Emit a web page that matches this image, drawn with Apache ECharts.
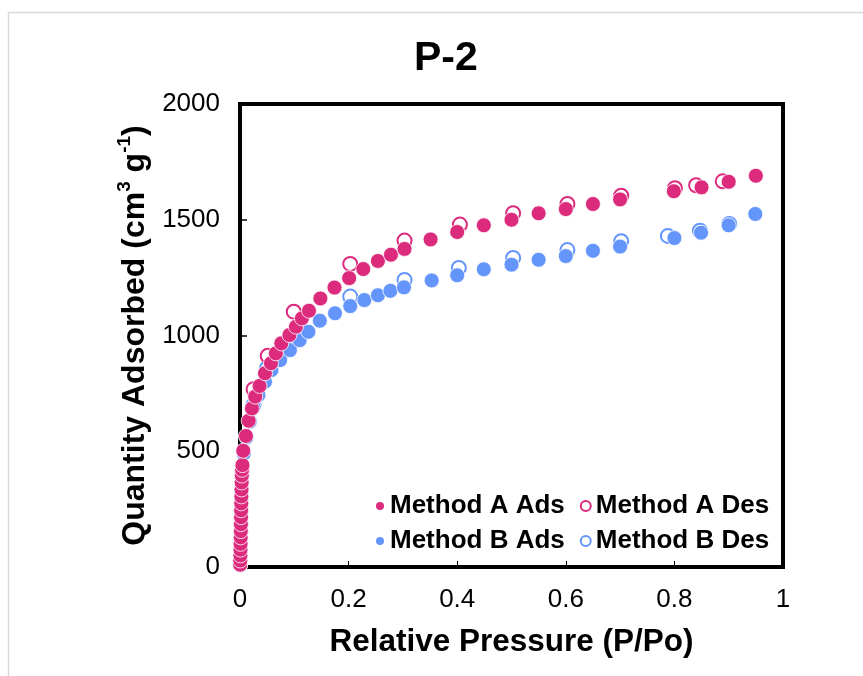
<!DOCTYPE html>
<html>
<head>
<meta charset="utf-8">
<script src="https://cdn.jsdelivr.net/npm/echarts@6/dist/echarts.min.js"></script>
<style>html,body{margin:0;padding:0;background:#fff;}#c{width:863px;height:676px;}</style>
</head>
<body>
<div id="c"></div>
<script>
// Data: [relative pressure, quantity adsorbed]
var methodAAds = [
  [0.0003,10],[0.0005,28],[0.0007,50],[0.0009,75],[0.0011,100],[0.0013,128],[0.0015,155],
  [0.0017,185],[0.0019,215],[0.0021,245],[0.0023,275],[0.0025,305],[0.0028,335],[0.0031,365],
  [0.0034,395],[0.0038,420],[0.0045,440],[0.006,502],[0.011,566],[0.016,632],[0.022,685],
  [0.028,736],[0.036,782],[0.046,837],[0.057,880],[0.066,923],[0.076,966],[0.091,1002],
  [0.103,1038],[0.114,1074],[0.127,1107],[0.148,1160],[0.174,1207],[0.201,1248],[0.227,1287],
  [0.254,1322],[0.278,1349],[0.303,1374],[0.351,1415],[0.400,1447],[0.449,1476],[0.500,1500],
  [0.550,1528],[0.600,1546],[0.650,1568],[0.700,1588],[0.799,1623],[0.850,1640],[0.900,1664],
  [0.950,1690]
];
var methodADes = [
  [0.889,1666],[0.840,1649],[0.801,1636],[0.702,1604],[0.603,1568],[0.503,1528],[0.405,1479],
  [0.303,1410],[0.203,1309],[0.099,1103],[0.051,912],[0.025,768]
];
var methodBAds = [
  [0.0003,8],[0.0005,25],[0.0007,45],[0.0009,70],[0.0011,95],[0.0013,120],[0.0015,150],
  [0.0017,178],[0.0019,205],[0.0021,235],[0.0023,265],[0.0025,295],[0.0028,325],[0.0031,355],
  [0.0034,385],[0.0038,410],[0.0045,432],[0.007,490],[0.012,560],[0.018,628],[0.025,692],
  [0.034,743],[0.046,800],[0.058,851],[0.074,894],[0.092,937],[0.110,980],[0.126,1016],
  [0.147,1064],[0.175,1096],[0.203,1127],[0.229,1153],[0.254,1174],[0.277,1193],[0.302,1208],
  [0.353,1238],[0.400,1260],[0.449,1286],[0.500,1306],[0.550,1327],[0.600,1343],[0.650,1366],
  [0.700,1384],[0.800,1421],[0.849,1444],[0.900,1476],[0.949,1525]
];
var methodBDes = [
  [0.901,1482],[0.847,1453],[0.788,1430],[0.702,1407],[0.603,1369],[0.503,1335],[0.403,1292],
  [0.303,1240],[0.203,1168],[0.100,1000],[0.050,860],[0.025,700]
];
var seriesNames = ['Method A Ads','Method A Des','Method B Ads','Method B Des'];
var xTicks = [0, 0.2, 0.4, 0.6, 0.8, 1];
var yTicks = [0, 500, 1000, 1500, 2000];

var PINK = '#dc2a7d';
var BLUE = '#6495fb';
var FONT = '"Liberation Sans", Arial, sans-serif';

var chart = echarts.init(document.getElementById('c'), null, {renderer: 'canvas'});

function filled(name, data, color, z) {
  return {
    name: name, type: 'scatter', data: data, symbol: 'circle', symbolSize: 15, z: z,
    itemStyle: {color: color, borderColor: '#ffffff', borderWidth: 0.8, opacity: 1},
    emphasis: {disabled: true}
  };
}
function open(name, data, color, z) {
  return {
    name: name, type: 'scatter', data: data, symbol: 'circle', symbolSize: 14, z: z,
    itemStyle: {color: '#ffffff', borderColor: color, borderWidth: 2, opacity: 1},
    emphasis: {disabled: true}
  };
}

var legendText = {fontFamily: FONT, fontWeight: 'bold', fontSize: 26, color: '#000'};

chart.setOption({
  animation: false,
  backgroundColor: '#ffffff',
  title: {
    text: 'P-2', left: 409, top: 33,
    textStyle: {fontFamily: FONT, fontWeight: 'bold', fontSize: 41, color: '#000'}
  },
  graphic: [{
    type: 'rect', left: 6, top: 10, z: -10, silent: true,
    shape: {width: 900, height: 700},
    style: {fill: 'none', stroke: '#d9d9d9', lineWidth: 1.5}
  }],
  legend: [
    {
      data: [seriesNames[0], seriesNames[1]], left: 374, top: 493, orient: 'horizontal',
      itemWidth: 10, itemHeight: 10, itemGap: 15, icon: 'circle', textStyle: legendText, padding: 0
    },
    {
      data: [seriesNames[2], seriesNames[3]], left: 374, top: 528, orient: 'horizontal',
      itemWidth: 10, itemHeight: 10, itemGap: 15, icon: 'circle', textStyle: legendText, padding: 0
    }
  ],
  grid: {
    left: 240, top: 104, width: 543, height: 463, show: true,
    borderColor: '#000', borderWidth: 4, backgroundColor: 'transparent'
  },
  xAxis: {
    type: 'value', min: xTicks[0], max: xTicks[xTicks.length - 1], interval: 0.2,
    name: 'Relative Pressure (P/Po)', nameLocation: 'middle', nameGap: 59,
    nameTextStyle: {fontFamily: FONT, fontWeight: 'bold', fontSize: 31.5, color: '#000'},
    axisLine: {show: true, lineStyle: {color: '#000', width: 4}},
    axisTick: {show: true, inside: true, length: 6, lineStyle: {color: '#000', width: 1}},
    axisLabel: {fontFamily: FONT, fontSize: 26, color: '#000', margin: 20,
      formatter: function (v) { return String(v); }},
    splitLine: {show: false}
  },
  yAxis: {
    type: 'value', min: yTicks[0], max: yTicks[yTicks.length - 1], interval: 500,
    name: '{a|Quantity Adsorbed (cm}{s|3}{a| g}{s|-1}{a|)}', nameLocation: 'middle', nameGap: 87,
    nameRotate: 90,
    nameTextStyle: {
      fontFamily: FONT, fontWeight: 'bold', fontSize: 32, color: '#000',
      rich: {
        a: {fontFamily: FONT, fontWeight: 'bold', fontSize: 32, color: '#000', lineHeight: 36, verticalAlign: 'bottom'},
        s: {fontFamily: FONT, fontWeight: 'bold', fontSize: 19, color: '#000', lineHeight: 36, verticalAlign: 'top'}
      }
    },
    axisLine: {show: true, lineStyle: {color: '#000', width: 4}},
    axisTick: {show: true, inside: true, length: 7, lineStyle: {color: '#000', width: 1.5}},
    axisLabel: {fontFamily: FONT, fontSize: 26, color: '#000', margin: 20,
      formatter: function (v) { return String(v); }},
    splitLine: {show: false}
  },
  series: [
    filled(seriesNames[0], methodAAds, PINK, 8),
    open(seriesNames[1], methodADes, PINK, 6),
    filled(seriesNames[2], methodBAds, BLUE, 4),
    open(seriesNames[3], methodBDes, BLUE, 2)
  ]
});
</script>
</body>
</html>
